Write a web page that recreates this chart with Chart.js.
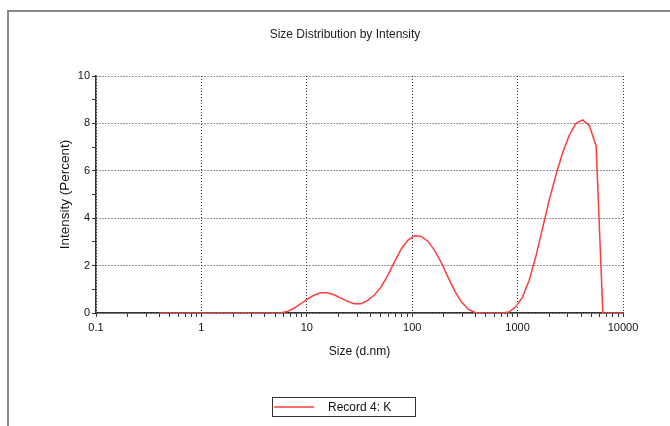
<!DOCTYPE html>
<html>
<head>
<meta charset="utf-8">
<script src="https://cdn.jsdelivr.net/npm/chart.js@4.4.1/dist/chart.umd.min.js"></script>
<style>
  html, body { margin: 0; padding: 0; background: #fff; }
  #wrap { position: relative; width: 670px; height: 426px; overflow: hidden; }
  #frame { position: absolute; left: 7px; top: 10px; width: 700px; height: 500px;
           border-top: 2px solid #8a8a8a; border-left: 2px solid #8a8a8a; }
  canvas { position: absolute; left: 0; top: 0; }
</style>
</head>
<body>
<div id="wrap">
  <div id="frame"></div>
  <canvas id="dls" width="670" height="426"></canvas>
</div>
<script>
// size bins (d.nm) and intensity (%)
const sizes = [0.4, 0.4632, 0.5365, 0.6213, 0.7195, 0.8332, 0.9649, 1.117, 1.294, 1.499,
  1.736, 2.01, 2.328, 2.696, 3.122, 3.615, 4.187, 4.849, 5.615, 6.503,
  7.531, 8.721, 10.1, 11.7, 13.54, 15.69, 18.17, 21.04, 24.36, 28.21,
  32.67, 37.84, 43.82, 50.75, 58.77, 68.06, 78.82, 91.28, 105.7, 122.4,
  141.8, 164.2, 190.1, 220.2, 255.0, 295.3, 342.0, 396.1, 458.7, 531.2,
  615.1, 712.4, 825.0, 955.4, 1106, 1281, 1484, 1718, 1990, 2305,
  2669, 3091, 3580, 4145, 4801, 5560, 6439, 7456, 8635, 10000];
const intensity = [0, 0, 0, 0, 0, 0, 0, 0, 0, 0,
  0, 0, 0, 0, 0, 0, 0, 0, 0, 0.06,
  0.2, 0.38, 0.58, 0.75, 0.85, 0.85, 0.77, 0.63, 0.49, 0.39,
  0.39, 0.53, 0.76, 1.1, 1.6, 2.17, 2.7, 3.08, 3.26, 3.23,
  3.02, 2.62, 2.1, 1.48, 0.9, 0.45, 0.15, 0.02, 0, 0,
  0, 0, 0.04, 0.25, 0.65, 1.35, 2.35, 3.55, 4.75, 5.8,
  6.75, 7.5, 8.0, 8.15, 7.9, 7.05, 0, 0, 0, 0];
const recordLabel = 'Record 4: K';

const xMajor = [0.1, 1, 10, 100, 1000, 10000];
const xLabels = ['0.1', '1', '10', '100', '1000', '10000'];
const yLabels = [0, 2, 4, 6, 8, 10];

const lineColor = '#ff3b3b';

// minor ticks 2..9 in each decade
const xTicks = [];
xMajor.forEach((d, i) => {
  xTicks.push(d);
  if (i < xMajor.length - 1) for (let k = 2; k <= 9; k++) xTicks.push(d * k);
});

Chart.defaults.font.family = '"Liberation Sans", Arial, sans-serif';
Chart.defaults.color = '#111';

// legend drawn as a framed box like the original software
const recordBox = {
  id: 'recordBox',
  afterDraw(chart) {
    const ctx = chart.ctx;
    const ds = chart.data.datasets[0];
    ctx.save();
    ctx.strokeStyle = '#333';
    ctx.lineWidth = 1;
    ctx.strokeRect(272.5, 397.5, 143, 19);
    ctx.strokeStyle = ds.borderColor;
    ctx.lineWidth = 1.5;
    ctx.beginPath();
    ctx.moveTo(274, 407);
    ctx.lineTo(314, 407);
    ctx.stroke();
    ctx.fillStyle = '#111';
    ctx.font = '12px "Liberation Sans", Arial, sans-serif';
    ctx.textBaseline = 'middle';
    ctx.fillText(ds.label, 328, 408);
    ctx.restore();
  }
};

new Chart(document.getElementById('dls'), {
  type: 'line',
  data: {
    datasets: [{
      label: recordLabel,
      data: sizes.map((s, i) => ({ x: s, y: intensity[i] })),
      borderColor: lineColor,
      backgroundColor: lineColor,
      borderWidth: 1.5,
      pointRadius: 0,
      tension: 0,
      yAxisID: 'y'
    }]
  },
  options: {
    responsive: false,
    animation: false,
    layout: { padding: { left: 20, right: 0, top: 0, bottom: 0 } },
    plugins: {
      legend: { display: false },
      tooltip: { enabled: false },
      title: {
        display: true,
        text: 'Size Distribution by Intensity',
        color: '#222',
        font: { size: 12, weight: 'normal' },
        padding: { top: 27, bottom: 34.6 }
      }
    },
    scales: {
      x: {
        type: 'logarithmic',
        min: 0.1,
        max: 10000,
        afterBuildTicks: s => { s.ticks = xTicks.map(v => ({ value: v })); },
        afterFit: s => { s.height = 113; },
        ticks: {
          autoSkip: false,
          maxRotation: 0,
          padding: 4,
          font: { size: 11 },
          callback: v => {
            const i = xMajor.indexOf(v);
            return i >= 0 ? xLabels[i] : '';
          }
        },
        grid: {
          color: c => (c.tick && xMajor.includes(c.tick.value)) ? '#333' : 'rgba(0,0,0,0)',
          tickColor: '#333',
          tickLength: 4
        },
        border: { color: '#333', width: 1.5, dash: [1, 2] },
        title: {
          display: true,
          text: 'Size (d.nm)',
          color: '#111',
          font: { size: 12 },
          padding: { bottom: 66.8 }
        }
      },
      y: {
        min: 0,
        max: 10,
        afterFit: s => { s.width = 76; },
        ticks: {
          stepSize: 1,
          autoSkip: false,
          padding: 2,
          font: { size: 11 },
          callback: v => yLabels.includes(v) ? String(v) : ''
        },
        grid: {
          color: c => (c.tick && yLabels.includes(c.tick.value)) ? '#333' : 'rgba(0,0,0,0)',
          tickColor: '#333',
          tickLength: 4
        },
        border: { color: '#333', width: 1.5, dash: [1, 2] },
        title: {
          display: true,
          text: 'Intensity (Percent)',
          color: '#111',
          font: { size: 13.5 },
          padding: { top: 37 }
        }
      },
      yr: {
        position: 'right',
        min: 0,
        max: 10,
        afterFit: s => { s.width = 47; },
        grid: { display: false },
        border: { display: false },
        ticks: { display: false }
      }
    }
  },
  plugins: [recordBox]
});
</script>
</body>
</html>
